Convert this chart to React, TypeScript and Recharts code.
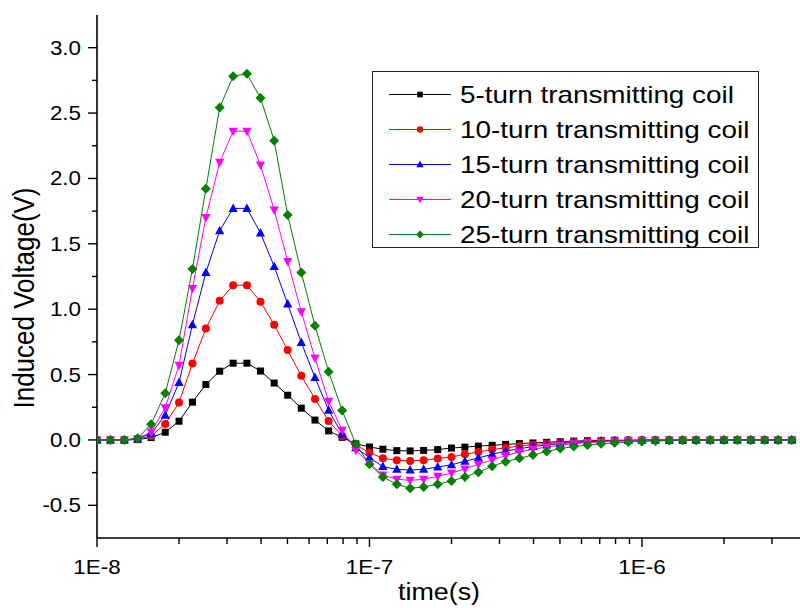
import React from "react";
import { LineChart, Line, XAxis, YAxis, Legend } from "recharts";

// sample times (s), 20 points per decade
const TIME = [
  1.0e-8, 1.12e-8, 1.26e-8, 1.41e-8, 1.58e-8, 1.78e-8, 2.0e-8, 2.24e-8, 2.51e-8, 2.82e-8,
  3.16e-8, 3.55e-8, 3.98e-8, 4.47e-8, 5.01e-8, 5.62e-8, 6.31e-8, 7.08e-8, 7.94e-8, 8.91e-8,
  1.0e-7, 1.12e-7, 1.26e-7, 1.41e-7, 1.58e-7, 1.78e-7, 2.0e-7, 2.24e-7, 2.51e-7, 2.82e-7,
  3.16e-7, 3.55e-7, 3.98e-7, 4.47e-7, 5.01e-7, 5.62e-7, 6.31e-7, 7.08e-7, 7.94e-7, 8.91e-7,
  1.0e-6, 1.12e-6, 1.26e-6, 1.41e-6, 1.58e-6, 1.78e-6, 2.0e-6, 2.24e-6, 2.51e-6, 2.82e-6,
  3.16e-6, 3.55e-6,
];

// induced voltage (V) per transmitting coil
const TURNS_5 = [
  0, 0, 0, 0.003, 0.018, 0.059, 0.143, 0.289, 0.424, 0.526,
  0.587, 0.587, 0.527, 0.435, 0.342, 0.243, 0.152, 0.069, 0.02, -0.03,
  -0.054, -0.071, -0.082, -0.084, -0.08, -0.074, -0.062, -0.055, -0.047, -0.041,
  -0.034, -0.028, -0.023, -0.018, -0.013, -0.009, -0.006, -0.004, -0.003, -0.002,
  -0.001, -0.001, -0.001, -0.001, -0.001, -0.001, 0, 0, 0, 0, 0, 0,
];
const TURNS_10 = [
  0, 0, 0, 0.005, 0.03, 0.122, 0.286, 0.584, 0.852, 1.064,
  1.184, 1.184, 1.057, 0.881, 0.687, 0.49, 0.314, 0.145, 0.03, -0.04,
  -0.097, -0.14, -0.155, -0.161, -0.155, -0.142, -0.13, -0.11, -0.092, -0.074,
  -0.06, -0.047, -0.036, -0.027, -0.02, -0.014, -0.01, -0.007, -0.005, -0.003,
  -0.002, -0.002, -0.001, -0.001, -0.001, -0.001, 0, 0, 0, 0, 0, 0,
];
const TURNS_15 = [
  0, 0, 0, 0.008, 0.05, 0.189, 0.439, 0.881, 1.281, 1.6,
  1.771, 1.771, 1.583, 1.327, 1.039, 0.745, 0.477, 0.227, 0.044, -0.06,
  -0.135, -0.204, -0.225, -0.23, -0.225, -0.207, -0.19, -0.163, -0.137, -0.11,
  -0.086, -0.067, -0.051, -0.038, -0.028, -0.02, -0.014, -0.01, -0.007, -0.005,
  -0.003, -0.002, -0.002, -0.001, -0.001, -0.001, -0.001, 0, 0, 0, 0, 0,
];
const TURNS_20 = [
  0, 0, 0, 0.01, 0.061, 0.247, 0.572, 1.159, 1.702, 2.123,
  2.361, 2.361, 2.103, 1.759, 1.365, 0.98, 0.626, 0.296, 0.074, -0.079,
  -0.18, -0.268, -0.301, -0.309, -0.301, -0.278, -0.253, -0.222, -0.186, -0.153,
  -0.12, -0.092, -0.071, -0.054, -0.04, -0.029, -0.021, -0.015, -0.01, -0.007,
  -0.005, -0.003, -0.002, -0.002, -0.001, -0.001, -0.001, -0.001, 0, 0, 0, 0,
];
const TURNS_25 = [
  0, 0, 0, 0.013, 0.12, 0.358, 0.763, 1.307, 1.922, 2.542,
  2.782, 2.8, 2.616, 2.289, 1.72, 1.281, 0.873, 0.521, 0.226, -0.033,
  -0.186, -0.283, -0.339, -0.37, -0.36, -0.339, -0.314, -0.283, -0.247, -0.201,
  -0.166, -0.14, -0.115, -0.089, -0.066, -0.051, -0.038, -0.03, -0.022, -0.016,
  -0.011, -0.008, -0.005, -0.003, -0.002, -0.001, -0.001, -0.001, 0, 0, 0, 0,
];

const X_MAJOR = [1e-8, 1e-7, 1e-6];
const X_MAJOR_LABELS = ["1E-8", "1E-7", "1E-6"];
const X_MINOR = [
  2e-8, 3e-8, 4e-8, 5e-8, 6e-8, 7e-8, 8e-8, 9e-8,
  2e-7, 3e-7, 4e-7, 5e-7, 6e-7, 7e-7, 8e-7, 9e-7,
  2e-6, 3e-6,
];
const Y_MAJOR = [-0.5, 0, 0.5, 1, 1.5, 2, 2.5, 3];
const Y_MAJOR_LABELS = ["-0.5", "0.0", "0.5", "1.0", "1.5", "2.0", "2.5", "3.0"];
const Y_MINOR = [-0.25, 0.25, 0.75, 1.25, 1.75, 2.25, 2.75];

const SERIES = [
  { key: "t5", name: "5-turn transmitting coil", color: "#000000", shape: "square", values: TURNS_5 },
  { key: "t10", name: "10-turn transmitting coil", color: "#ff0000", shape: "circle", values: TURNS_10 },
  { key: "t15", name: "15-turn transmitting coil", color: "#0000ff", shape: "up", values: TURNS_15 },
  { key: "t20", name: "20-turn transmitting coil", color: "#ff00ff", shape: "down", values: TURNS_20 },
  { key: "t25", name: "25-turn transmitting coil", color: "#008000", shape: "diamond", values: TURNS_25 },
];

const FONT = "Arial, 'Liberation Sans', Helvetica, sans-serif";
const CHART_W = 820;
const CHART_H = 608;
const Y_AXIS_W = 97;
const X_AXIS_H = 70;
const PLOT_LEFT = Y_AXIS_W;
const PLOT_BOTTOM = CHART_H - X_AXIS_H;
const STRETCH = 1.12; // text in this figure runs a bit wide

const data = TIME.map((t, i) => {
  const row: Record<string, number> = { t };
  SERIES.forEach((s) => {
    row[s.key] = s.values[i];
  });
  return row;
});

function Marker({ cx, cy, shape, color, size = 1 }: any) {
  if (cx == null || cy == null) return null;
  const s = size;
  switch (shape) {
    case "square":
      return <rect x={cx - 3.5 * s} y={cy - 3.5 * s} width={7 * s} height={7 * s} fill={color} />;
    case "circle":
      return <circle cx={cx} cy={cy} r={4 * s} fill={color} />;
    case "up":
      return (
        <polygon
          points={`${cx},${cy - 5 * s} ${cx + 4.6 * s},${cy + 3.5 * s} ${cx - 4.6 * s},${cy + 3.5 * s}`}
          fill={color}
        />
      );
    case "down":
      return (
        <polygon
          points={`${cx},${cy + 5 * s} ${cx + 4.6 * s},${cy - 3.5 * s} ${cx - 4.6 * s},${cy - 3.5 * s}`}
          fill={color}
        />
      );
    default:
      return (
        <polygon
          points={`${cx},${cy - 5 * s} ${cx + 5 * s},${cy} ${cx},${cy + 5 * s} ${cx - 5 * s},${cy}`}
          fill={color}
        />
      );
  }
}

function XTick({ x, payload }: any) {
  const idx = X_MAJOR.indexOf(payload.value);
  const major = idx >= 0;
  return (
    <g>
      <line x1={x} x2={x} y1={PLOT_BOTTOM} y2={PLOT_BOTTOM + (major ? 9 : 6)} stroke="#000" strokeWidth={1.4} />
      {major && (
        <text
          transform={`translate(${x} ${PLOT_BOTTOM + 36}) scale(${STRETCH} 1)`}
          textAnchor="middle"
          fontSize={20}
          fontFamily={FONT}
          fill="#000"
        >
          {X_MAJOR_LABELS[idx]}
        </text>
      )}
    </g>
  );
}

function YTick({ y, payload }: any) {
  const idx = Y_MAJOR.indexOf(payload.value);
  const major = idx >= 0;
  return (
    <g>
      <line x1={PLOT_LEFT - (major ? 9 : 5)} x2={PLOT_LEFT} y1={y} y2={y} stroke="#000" strokeWidth={1.4} />
      {major && (
        <text
          transform={`translate(${PLOT_LEFT - 16} ${y + 7}) scale(${STRETCH} 1)`}
          textAnchor="end"
          fontSize={20}
          fontFamily={FONT}
          fill="#000"
        >
          {Y_MAJOR_LABELS[idx]}
        </text>
      )}
    </g>
  );
}

function LegendBox() {
  return (
    <div
      style={{
        width: 387,
        height: 177,
        boxSizing: "border-box",
        border: "1px solid #222",
        background: "#fff",
        paddingTop: 5,
        fontFamily: FONT,
      }}
    >
      {SERIES.map((s) => (
        <div key={s.key} style={{ height: 35, display: "flex", alignItems: "center" }}>
          <svg width={87} height={35} style={{ flex: "none" }}>
            <line x1={16} x2={78} y1={17.5} y2={17.5} stroke={s.color} strokeWidth={1} />
            <Marker cx={47} cy={17.5} shape={s.shape} color={s.color} size={0.8} />
          </svg>
          <span
            style={{
              fontSize: 24,
              color: "#000",
              whiteSpace: "nowrap",
              display: "inline-block",
              transform: "scale(1.16, 1)",
              transformOrigin: "left center",
            }}
          >
            {s.name}
          </span>
        </div>
      ))}
    </div>
  );
}

export default function App() {
  return (
    <div
      style={{
        position: "fixed",
        left: 0,
        top: 0,
        width: 800,
        height: 608,
        overflow: "hidden",
        background: "#fff",
      }}
    >
      <LineChart
        width={CHART_W}
        height={CHART_H}
        data={data}
        margin={{ top: 15, right: 14, bottom: 0, left: 0 }}
      >
        <XAxis
          dataKey="t"
          type="number"
          scale="log"
          domain={[1e-8, 4e-6]}
          allowDataOverflow
          ticks={[...X_MAJOR, ...X_MINOR]}
          interval={0}
          tick={<XTick />}
          tickLine={false}
          axisLine={{ stroke: "#000", strokeWidth: 1.6 }}
          height={X_AXIS_H}
          label={{
            content: () => (
              <text
                transform={`translate(439 600) scale(${STRETCH} 1)`}
                textAnchor="middle"
                fontSize={24}
                fontFamily={FONT}
                fill="#000"
              >
                time(s)
              </text>
            ),
          }}
        />
        <YAxis
          type="number"
          domain={[-0.75, 3.25]}
          allowDataOverflow
          ticks={[...Y_MAJOR, ...Y_MINOR]}
          interval={0}
          tick={<YTick />}
          tickLine={false}
          axisLine={{ stroke: "#000", strokeWidth: 1.6 }}
          width={Y_AXIS_W}
          label={{
            content: () => (
              <text
                transform={`translate(34 298) scale(${STRETCH} 1) rotate(-90)`}
                textAnchor="middle"
                fontSize={26}
                fontFamily={FONT}
                fill="#000"
              >
                Induced Voltage(V)
              </text>
            ),
          }}
        />
        <Legend
          layout="vertical"
          align="center"
          verticalAlign="middle"
          content={() => <LegendBox />}
          wrapperStyle={{ left: 372, top: 71, width: 387, height: 177 }}
        />
        {SERIES.map((s) => (
          <Line
            key={s.key}
            dataKey={s.key}
            name={s.name}
            type="linear"
            stroke={s.color}
            strokeWidth={1}
            isAnimationActive={false}
            activeDot={false}
            dot={(p: any) => (
              <Marker key={`${s.key}-${p.index}`} cx={p.cx} cy={p.cy} shape={s.shape} color={s.color} />
            )}
          />
        ))}
      </LineChart>
    </div>
  );
}
